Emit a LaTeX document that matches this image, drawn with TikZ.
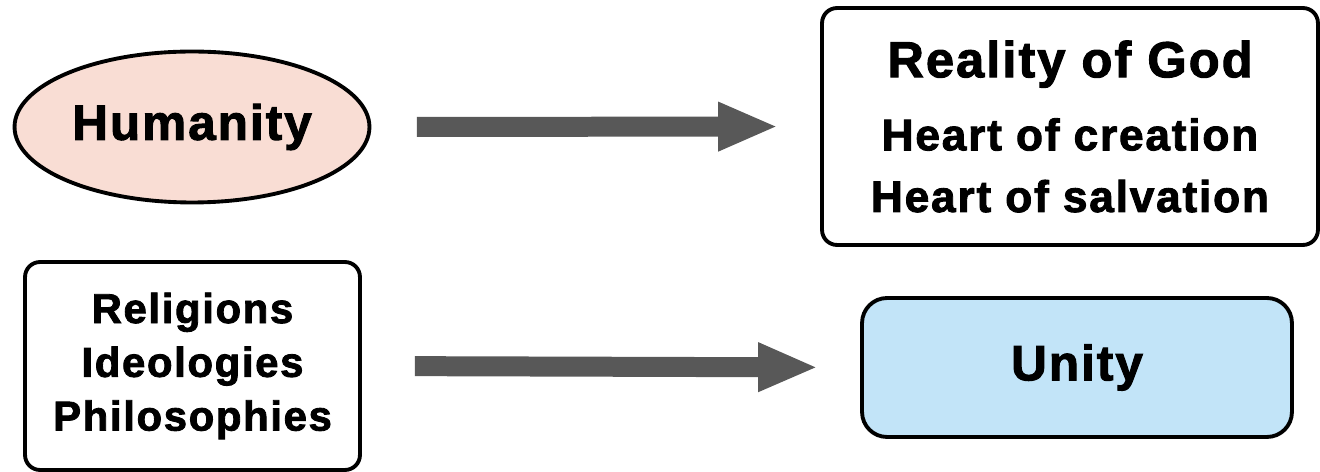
\documentclass[tikz,border=0pt]{standalone}
\usepackage{fontspec}
\setmainfont{Liberation Sans}[FakeBold=2,LetterSpace=4]
\usetikzlibrary{arrows.meta}
\usetikzlibrary{shapes.geometric}

\definecolor{rosepale}{RGB}{249,221,212}
\definecolor{bleuclair}{RGB}{194,228,248}
\definecolor{grisfleche}{RGB}{88,88,88}

\tikzset{
  bulle/.style={ellipse, draw, line width=2.2pt, fill=rosepale, inner sep=0pt},
  cadre/.style={rectangle, draw, line width=2.2pt, rounded corners=0.3cm, inner sep=0pt},
  fleche/.style={line width=0.4cm, draw=grisfleche, -{Triangle[length=1.2cm,width=0.9cm]}},
  grand/.style={font=\bfseries\fontsize{28.2}{35}\selectfont},
  moyen/.style={font=\bfseries\fontsize{25.2}{35.1}\selectfont}
}

\begin{document}
\begin{tikzpicture}[x=0.02cm,y=-0.02cm]
\useasboundingbox (0,0) rectangle (1320,472);

% ligne du haut
\node[bulle, grand, minimum width=7.1cm, minimum height=3.02cm] (hum) at (192,127) {Humanity};
\node[cadre, moyen, align=center, minimum width=9.92cm, minimum height=4.74cm] (god) at (1070,126.5)
  {{\fontsize{28.8}{35}\selectfont Reality of God}\\[6.5pt]Heart of creation\\Heart of salvation};

% ligne du bas
\node[cadre, font=\bfseries\fontsize{23.8}{30.6}\selectfont, align=center, minimum width=6.7cm, minimum height=4.16cm] (rel) at (192.5,366)
  {Religions\\Ideologies\\Philosophies};
\node[cadre, grand, rounded corners=0.5cm, fill=bleuclair, minimum width=8.6cm, minimum height=2.78cm] (uni) at (1077,367.5) {Unity};

% fleches
\draw[fleche, shorten <=0.91cm, shorten >=0.84cm] (hum.east) -- (god.west);
\draw[fleche, shorten <=1.06cm, shorten >=0.84cm] (rel.east) -- (uni.west);

\end{tikzpicture}
\end{document}
